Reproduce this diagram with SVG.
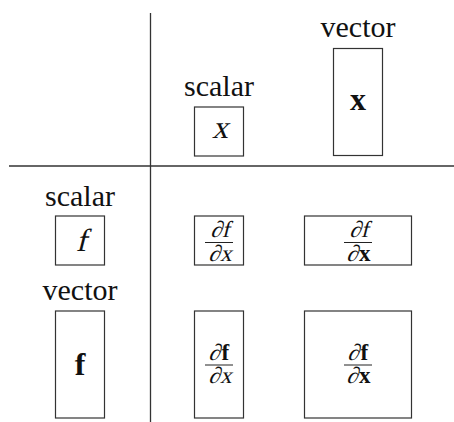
<svg xmlns="http://www.w3.org/2000/svg" width="454" height="422" viewBox="0 0 454 422">
  <style>
    .box { fill: #fff; stroke: #333; stroke-width: 1.2; }
    .axis { stroke: #333; stroke-width: 1.3; fill: none; }
    .bar { stroke: #222; stroke-width: 1; }
    text { font-family: "Liberation Serif", "Times New Roman", serif; fill: #111; text-anchor: middle; }
    .lbl { font-size: 30px; }
    .m { font-size: 32px; }
    .fr { font-size: 23px; }
    .st { text-anchor: start; }
    .bf { font-weight: bold; }
  </style>
  <rect width="454" height="422" fill="#fff"/>
  <g id="connectors">
    <line class="axis" x1="150.5" y1="13" x2="150.5" y2="422"/>
    <line class="axis" x1="9" y1="166" x2="454" y2="166"/>
  </g>
  <g id="col-scalar">
    <text class="lbl" x="219" y="96">scalar</text>
    <rect class="box" x="194.5" y="107" width="49" height="49"/>
    <text class="m" transform="translate(220,138) skewX(-14)">x</text>
  </g>
  <g id="col-vector">
    <text class="lbl" x="358" y="37">vector</text>
    <rect class="box" x="333.5" y="48.5" width="49" height="107"/>
    <text class="m bf" x="358" y="110">x</text>
  </g>
  <g id="row-scalar">
    <text class="lbl" x="80" y="206">scalar</text>
    <rect class="box" x="55.5" y="216" width="49" height="49"/>
    <text class="m" font-size="34" transform="translate(81,251) skewX(-14)">f</text>
  </g>
  <g id="row-vector">
    <text class="lbl" x="80" y="300">vector</text>
    <rect class="box" x="55.5" y="311" width="49" height="107"/>
    <text class="m bf" x="80" y="375">f</text>
  </g>
  <g id="d-scalar-scalar">
    <rect class="box" x="194.5" y="216" width="49" height="49"/>
    <text class="fr" transform="translate(220,237) skewX(-14)">∂f</text>
    <line class="bar" x1="205" y1="242.5" x2="233" y2="242.5"/>
    <text class="fr" transform="translate(220,260.5) skewX(-14)">∂x</text>
  </g>
  <g id="d-scalar-vector">
    <rect class="box" x="304.5" y="216" width="107" height="49"/>
    <text class="fr" transform="translate(359,237) skewX(-14)">∂f</text>
    <line class="bar" x1="344" y1="242.5" x2="372" y2="242.5"/>
    <text class="fr st" transform="translate(346.5,260.5) skewX(-14)">∂</text>
    <text class="fr st bf" x="359" y="260.5">x</text>
  </g>
  <g id="d-vector-scalar">
    <rect class="box" x="194.5" y="311" width="49" height="107"/>
    <text class="fr st" transform="translate(208.5,359.5) skewX(-14)">∂</text>
    <text class="fr st bf" x="221.5" y="359.5">f</text>
    <line class="bar" x1="205" y1="365" x2="233" y2="365"/>
    <text class="fr" transform="translate(220,383) skewX(-14)">∂x</text>
  </g>
  <g id="d-vector-vector">
    <rect class="box" x="304.5" y="311" width="107" height="107"/>
    <text class="fr st" transform="translate(347.5,359.5) skewX(-14)">∂</text>
    <text class="fr st bf" x="360.5" y="359.5">f</text>
    <line class="bar" x1="344" y1="365" x2="372" y2="365"/>
    <text class="fr st" transform="translate(346.5,383) skewX(-14)">∂</text>
    <text class="fr st bf" x="359" y="383">x</text>
  </g>
</svg>
